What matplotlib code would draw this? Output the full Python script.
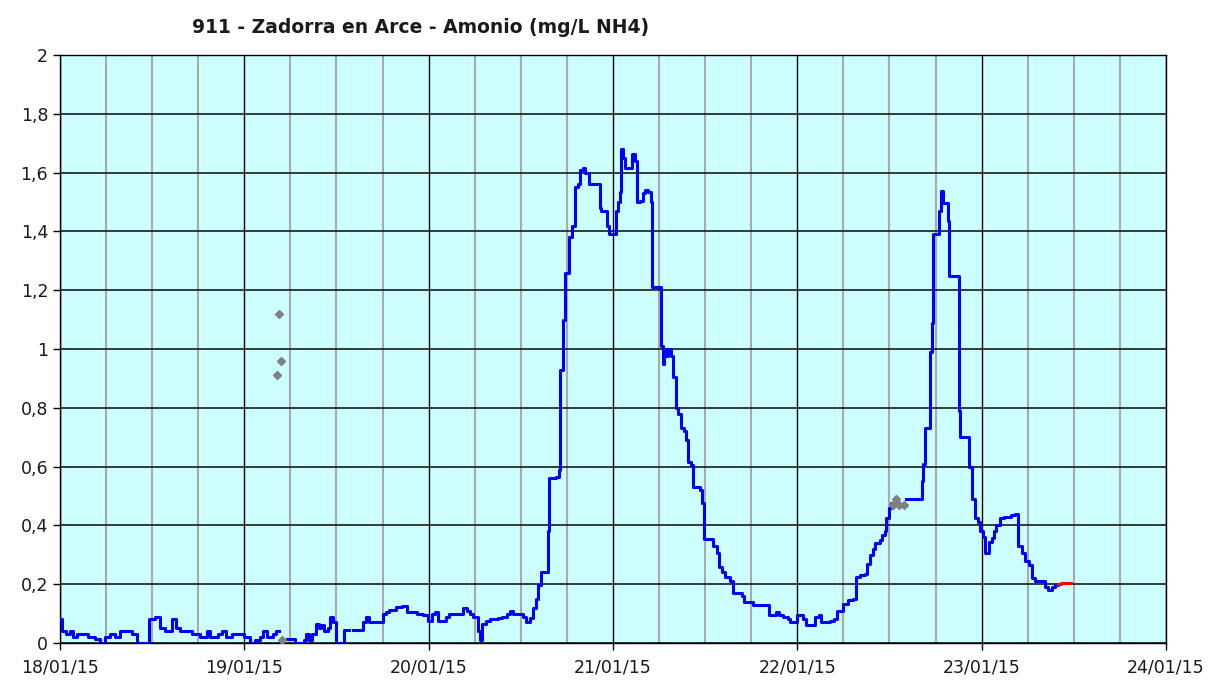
import matplotlib
matplotlib.use("Agg")
import matplotlib.pyplot as plt
import numpy as np

# hours since 18/01/15 00:00 -> NH4 mg/L (step changes, nan = gap)
hours = [0.0, 0.3, 0.8, 1.3, 1.7, 2.2, 3.6, 4.6, 5.2, 5.9, 6.5, 7.2, 7.8, 9.4, 10.0,
         11.6, 12.4, 13.0, 13.7, 14.6, 15.1, 15.6, 17.2, 18.2, 19.1, 19.5, 20.6, 21.1,
         21.6, 22.4, 24.0, 24.7, 25.4, 26.0, 26.4, 27.0, 27.7, 28.1, 28.5,
         29.6, 30.6, 31.8, 32.0, 32.4, 32.8, 33.3, 33.7, 34.0, 34.4, 34.9, 35.2, 35.6,
         35.9, 37.0, 37.6, 38.2, 39.5, 39.8, 40.3, 42.0, 42.5, 42.9, 43.8, 44.6, 45.2,
         46.5, 47.3, 47.9, 48.4, 48.8, 49.2, 50.2, 50.7, 52.5, 53.0, 53.4, 53.8, 54.4,
         54.7, 55.0, 55.5, 56.0, 57.0, 57.6, 58.2, 58.6, 59.0, 60.3, 60.7, 61.2, 61.6,
         62.0, 62.3, 62.6, 63.5, 63.7, 64.6, 65.0, 65.1, 65.5, 65.8, 66.3, 66.7, 67.0,
         67.4, 67.7, 68.1, 68.3, 68.9, 70.3, 70.5, 71.2, 71.5, 72.4, 72.6, 72.9, 73.0,
         73.3, 73.6, 74.5, 74.9, 75.1, 75.5, 75.9, 76.2, 76.6, 76.9, 77.1, 78.3, 78.5,
         78.7, 78.9, 79.2, 79.5, 79.8, 80.2, 80.5, 80.9, 81.3, 81.5, 81.8, 82.2, 82.4,
         83.3, 83.6, 83.8, 83.9, 85.0, 85.5, 85.8, 86.2, 86.6, 87.2, 87.6, 88.8, 89.0,
         90.2, 92.3, 93.2, 93.6, 94.1, 94.8, 95.1, 95.9, 96.7, 97.2, 98.3, 98.8, 99.1,
         100.2, 100.8, 101.2, 102.0, 102.6, 103.2, 103.6, 104.2, 104.8, 105.1, 105.5,
         105.9, 106.1, 106.8, 107.0, 107.4, 107.6, 107.9, 108.2, 108.5,
         110.2, 112.2, 112.4, 112.6, 113.3, 113.5, 113.7, 114.5, 114.7, 115.0, 115.6,
         115.7, 117.0, 117.2, 118.4, 118.7, 119.1, 119.5, 119.8, 120.2, 120.5, 121.0,
         121.4, 121.6, 121.9, 122.4, 122.9, 123.8, 124.4, 124.8, 125.3, 125.7, 126.2,
         126.5, 126.9, 128.2, 128.6, 129.1, 129.6, 130.0]
nh4 = [0.08, 0.04, 0.03, 0.04, 0.02, 0.03, 0.02, 0.015, 0.0, 0.02, 0.03, 0.02, 0.04, 0.03, 0.0,
       0.08, 0.09, 0.05, 0.04, 0.08, 0.05, 0.04, 0.03, 0.02, 0.04, 0.02, 0.03, 0.04,
       0.02, 0.03, 0.02, 0.0, 0.01, 0.02, 0.04, 0.02, 0.03, 0.04, np.nan,
       0.015, 0.0, 0.01, 0.03, 0.01, 0.03, 0.065, 0.05, 0.06, 0.04, 0.05, 0.09, 0.07,
       0.0, 0.045, np.nan, 0.045, 0.07, 0.09, 0.07, 0.10, 0.107, 0.113, 0.124, 0.126, 0.107,
       0.10, 0.096, 0.074, 0.10, 0.107, 0.074, 0.09, 0.10, 0.12, 0.11, 0.10, 0.09, 0.04,
       0.01, 0.065, 0.075, 0.08, 0.085, 0.09, 0.10, 0.11, 0.10, 0.09, 0.07, 0.085, 0.12,
       0.15, 0.196, 0.24, 0.38, 0.56, 0.565, 0.59, 0.93, 1.10, 1.26, 1.38, 1.42, 1.55,
       1.56, 1.61, 1.615, 1.60, 1.56, 1.48, 1.47, 1.42, 1.39, 1.47, 1.50, 1.535, 1.68,
       1.65, 1.615, 1.665, 1.64, 1.50, 1.505, 1.53, 1.54, 1.535, 1.50, 1.21, 1.01, 0.95,
       1.0, 0.975, 1.0, 0.975, 0.905, 0.80, 0.78, 0.73, 0.72, 0.69, 0.617, 0.605, 0.53,
       0.52, 0.475, 0.42, 0.355, 0.33, 0.305, 0.26, 0.24, 0.225, 0.21, 0.17, 0.16, 0.14,
       0.13, 0.095, 0.105, 0.095, 0.09, 0.08, 0.07, 0.095, 0.083, 0.06, 0.09, 0.095, 0.07,
       0.075, 0.083, 0.11, 0.134, 0.145, 0.15, 0.225, 0.23, 0.236, 0.27, 0.30,
       0.32, 0.34, 0.35, 0.367, 0.38, 0.424, 0.458, 0.475, np.nan,
       0.49, 0.55, 0.61, 0.73, 0.99, 1.09, 1.39, 1.47, 1.536, 1.496, 1.434,
       1.247, 0.79, 0.70, 0.60, 0.49, 0.425, 0.41, 0.38, 0.36, 0.305, 0.345,
       0.356, 0.38, 0.40, 0.425, 0.43, 0.436, 0.44, 0.33, 0.305, 0.28, 0.265,
       0.22, 0.21, 0.19, 0.18, 0.19, 0.197, 0.20]

# last (provisional) stretch in red
red_hours = [130.0, 130.4, 130.8, 131.6]
red_nh4 = [0.20, 0.203, 0.205, 0.205]

# grey isolated readings
grey_hours = [28.3, 28.55, 28.8, 28.9, 108.5, 108.9, 109.2, 109.9]
grey_nh4 = [0.91, 1.12, 0.96, 0.01, 0.47, 0.49, 0.47, 0.47]

day_labels = ["18/01/15", "19/01/15", "20/01/15", "21/01/15", "22/01/15", "23/01/15", "24/01/15"]
y_ticks = [0, 0.2, 0.4, 0.6, 0.8, 1.0, 1.2, 1.4, 1.6, 1.8, 2.0]
y_labels = ["0", "0,2", "0,4", "0,6", "0,8", "1", "1,2", "1,4", "1,6", "1,8", "2"]

fig = plt.figure(figsize=(12.11, 6.8), dpi=100, facecolor="white")
ax = fig.add_axes([0.0495, 0.0544, 0.9133, 0.8647])
ax.set_facecolor("#ccffff")

ax.set_xlim(0, 144)
ax.set_ylim(0, 2)

ax.set_xticks(np.arange(0, 145, 24))
ax.set_xticklabels(day_labels)
ax.set_xticks(np.arange(0, 145, 6), minor=True)
ax.set_yticks(y_ticks)
ax.set_yticklabels(y_labels)

ax.grid(which="minor", axis="x", color="#aaaaaa", linewidth=1.5, zorder=0)
ax.grid(which="major", axis="x", color="black", linewidth=1.0, zorder=0)
ax.grid(which="major", axis="y", color="#1a1a1a", linewidth=1.2, zorder=0)
ax.set_axisbelow(True)

ax.tick_params(axis="both", which="major", direction="out", length=5, width=1,
               labelsize=12.5, colors="black", labelcolor="#1a1a1a")
ax.tick_params(axis="x", which="minor", length=0)
ax.tick_params(axis="x", pad=6)
for s in ax.spines.values():
    s.set_color("black")
    s.set_linewidth(1.0)

ax.plot(hours, nh4, color="#0000ff", linewidth=2.2, drawstyle="steps-post", zorder=3)
ax.plot(red_hours, red_nh4, color="#ff0000", linewidth=2.2, drawstyle="steps-post", zorder=3)
ax.plot(grey_hours, grey_nh4, linestyle="none", marker="D", markersize=4.5,
        color="#808080", zorder=4)

fig.text(0.347, 0.96, "911 - Zadorra en Arce - Amonio (mg/L NH4)", ha="center", va="center",
         fontsize=13.5, fontweight="bold", color="#1a1a1a")

fig.savefig("out.png", dpi=100, facecolor="white")
